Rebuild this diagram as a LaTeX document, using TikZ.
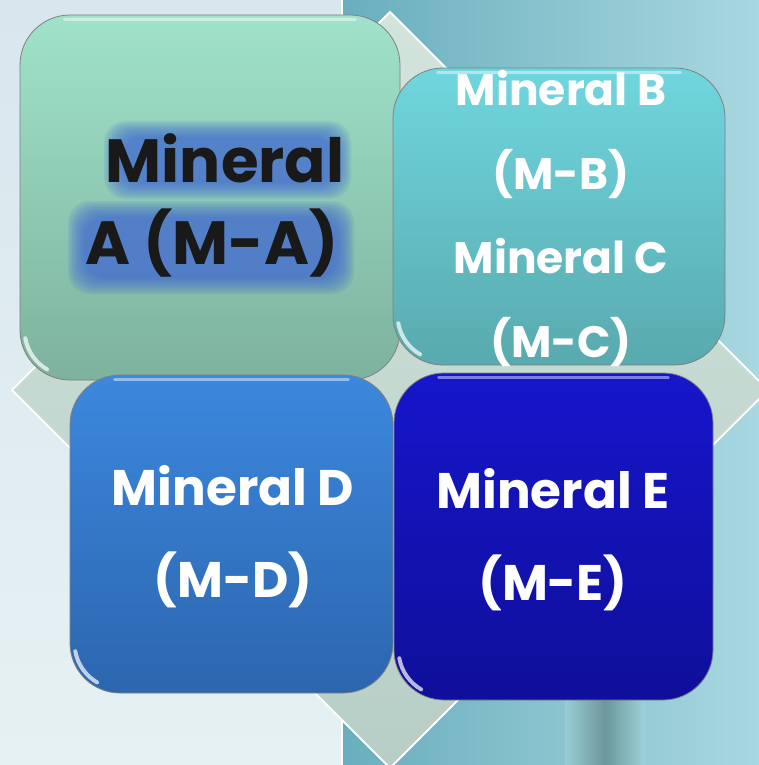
\documentclass[tikz,border=0pt]{standalone}
\usepackage{fontspec}
\setmainfont{Poppins}
\usetikzlibrary{positioning}

\definecolor{bgleftTop}{HTML}{D8E6EE}
\definecolor{bgleftBot}{HTML}{E6F1F3}
\definecolor{bgrightA}{HTML}{6AAEBD}
\definecolor{bgrightB}{HTML}{A8D8E0}
\definecolor{stripe}{HTML}{3E5C57}
\definecolor{diamondA}{HTML}{D2E4DC}
\definecolor{diamondB}{HTML}{B7CEC6}
\definecolor{maTop}{HTML}{A0E2CA}
\definecolor{maBot}{HTML}{7DB29E}
\definecolor{mbTop}{HTML}{70D6DE}
\definecolor{mbBot}{HTML}{58AAAE}
\definecolor{mdTop}{HTML}{3C88DE}
\definecolor{mdBot}{HTML}{2C66AE}
\definecolor{meTop}{HTML}{1616CC}
\definecolor{meBot}{HTML}{0F0F9A}
\definecolor{glowblue}{HTML}{3F66D4}

\tikzset{
  tile/.style={rounded corners=50pt, draw=black!50, line width=0.8pt, inner sep=0pt},
  tiletext/.style={font=\bfseries\fontsize{50}{92}\selectfont, align=center, text=white, inner sep=0pt},
  sheen/.style={white, line cap=round, opacity=0.45, line width=3pt},
}

\begin{document}
\begin{tikzpicture}[x=1pt,y=-1pt]
    \useasboundingbox (0,0) rectangle (759,765);

    % Background panels
    \shade[top color=bgleftTop, bottom color=bgleftBot] (0,0) rectangle (342,765);
    \shade[left color=bgrightA, right color=bgrightB] (342,0) rectangle (759,765);
    \shade[left color=bgrightB, right color=bgrightB, middle color=stripe, opacity=0.45] (565,700) rectangle (645,765);
    \draw[white, line width=1.5pt] (342,0) -- (342,765);

    % Diamond behind the tiles
    \shade[top color=diamondA, bottom color=diamondB, draw=white, line width=2pt]
        (390,12) -- (768,390) -- (390,768) -- (12,390) -- cycle;

    % Define the labels
    \def\textA{\hspace*{26pt}Mineral\\A (M-A)}
    \def\textB{Mineral B\\(M-B)\\Mineral C\\(M-C)}
    \def\textD{Mineral D\\(M-D)}
    \def\textE{Mineral E\\(M-E)}

    % Draw the tiles
    \node[tile, minimum width=380pt, minimum height=365pt, top color=maTop, bottom color=maBot] (ma) at (210,197.5) {};
    \node[tile, minimum width=332pt, minimum height=297pt, top color=mbTop, bottom color=mbBot] (mb) at (559,216.5) {};
    \node[tile, minimum width=323pt, minimum height=318pt, top color=mdTop, bottom color=mdBot] (md) at (231.5,534) {};
    \node[tile, minimum width=319pt, minimum height=327pt, top color=meTop, bottom color=meBot] (me) at (553.5,536.5) {};

    % Sheen on the top edge and glint in the lower left corner
    \foreach \t in {ma,mb,md,me} {
        \draw[sheen] ([shift={(45,5)}]\t.north west) -- ([shift={(-45,5)}]\t.north east);
        \draw[sheen, line width=4pt, opacity=0.7] ([shift={(50,-50)}]\t.south west) ++(170:45) arc[start angle=170, end angle=120, radius=45];
    }

    % Soft glow behind the first label
    \foreach \s in {0,2,...,16} {
        \fill[glowblue, opacity=0.13, rounded corners=22pt] (104+\s,121+\s) rectangle (351-\s,199-\s);
        \fill[glowblue, opacity=0.13, rounded corners=22pt] (68+\s,201+\s) rectangle (354-\s,294-\s);
    }

    % Draw the labels
    \node[tiletext, font=\bfseries\fontsize{61}{82}\selectfont, text=black!90] (la) at (212,205) {\textA};
    \node[tiletext, font=\bfseries\fontsize{44}{84}\selectfont] (lb) at (561,218) {\textB};
    \node[tiletext] (ld) at (233,537) {\textD};
    \node[tiletext] (le) at (553,540) {\textE};
  \end{tikzpicture}
\end{document}
